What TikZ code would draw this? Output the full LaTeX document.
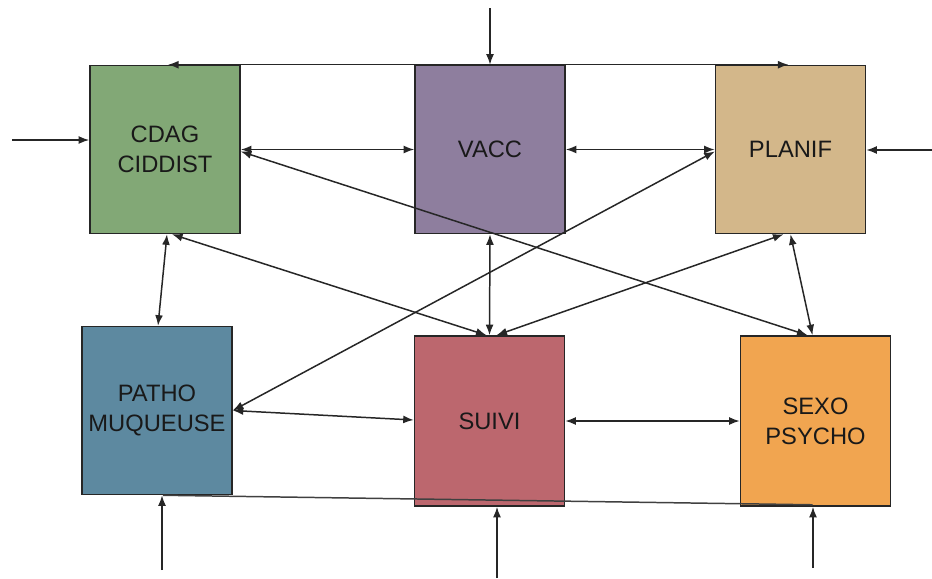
\documentclass[tikz,border=0pt]{standalone}
\usepackage{fontspec}
\setmainfont{Liberation Sans}
\usetikzlibrary{arrows.meta,calc}

\definecolor{cdaggreen}{RGB}{130,168,118}
\definecolor{vaccpurple}{RGB}{142,126,158}
\definecolor{planiftan}{RGB}{211,183,138}
\definecolor{pathoblue}{RGB}{93,137,160}
\definecolor{suivired}{RGB}{188,103,110}
\definecolor{sexoorange}{RGB}{241,165,80}

\tikzset{
	unit/.style={draw=black!85,line width=0.9pt,minimum width=3cm,minimum height=3.36cm,
		align=center,text=black!90,font=\fontsize{13.5}{17}\selectfont},
	link/.style={line width=0.85pt,color=black!85,{Latex[length=6pt,width=4.5pt]}-{Latex[length=6pt,width=4.5pt]}},
	feed/.style={line width=0.85pt,color=black!85,-{Latex[length=6pt,width=4.5pt]}}
}

\begin{document}
\begin{tikzpicture}[x=0.02cm,y=-0.02cm]
	\useasboundingbox (0,0) rectangle (932,578);
	\node[unit,fill=cdaggreen] (cdag) at (165,149.5) {CDAG\\CIDDIST};
	\node[unit,fill=vaccpurple] (vacc) at (490,149.5) {VACC};
	\node[unit,fill=planiftan] (planif) at (790.5,149.5) {PLANIF};
	\node[unit,fill=pathoblue] (patho) at (157,410.5) {PATHO\\MUQUEUSE};
	\node[unit,fill=suivired,minimum height=3.4cm] (suivi) at (489.5,421) {SUIVI};
	\node[unit,fill=sexoorange,minimum height=3.4cm] (sexo) at (815.5,421) {SEXO\\PSYCHO};

	\coordinate (inL) at (12,140);
	\coordinate (inT) at (490,8);
	\coordinate (inR) at (932,150);
	\coordinate (inB1) at (162,570);
	\coordinate (inB2) at (497,578);
	\coordinate (inB3) at (813,568);

	\draw[feed] (inL) -- (inL -| cdag.west);
	\draw[feed] (inT) -- (vacc.north);
	\draw[feed] (inR) -- (inR -| planif.east);
	\draw[feed] (inB1) -- (inB1 |- patho.south);
	\draw[feed] (inB2) -- (inB2 |- suivi.south);
	\draw[feed] (inB3) -- (inB3 |- sexo.south);

	\draw[feed] (vacc.north) -- ($(cdag.north)+(3,0)$);
	\draw[feed] (vacc.north) -- ($(planif.north)+(-2,0)$);
	\draw[link] (cdag.east) -- (vacc.west);
	\draw[link] (vacc.east) -- (planif.west);
	\draw[link] ($(cdag.east)+(0,2)$) -- ($(sexo.north)+(-8,0)$);
	\draw[link] (planif.south) -- ($(sexo.north)+(-3,0)$);
	\draw[link] ($(suivi.north)+(7,0)$) -- ($(planif.south)+(-7,0)$);
	\draw[link] ($(planif.west)+(0,2)$) -- (patho.east);
	\draw[link] (vacc.south) -- (suivi.north);
	\draw[link] ($(cdag.south)+(7,0)$) -- ($(suivi.north)+(-3,0)$);
	\draw[link] ($(cdag.south)+(2,0)$) -- ($(patho.north)+(1,0)$);
	\draw[link] (patho.east) -- ($(suivi.west)+(0,-1)$);
	\draw[link] (suivi.east) -- (sexo.west);
	\draw[line width=0.85pt,color=black!75] ($(patho.south)+(6,0)$) -- ($(sexo.south)+(-3,-2)$);
\end{tikzpicture}
\end{document}
